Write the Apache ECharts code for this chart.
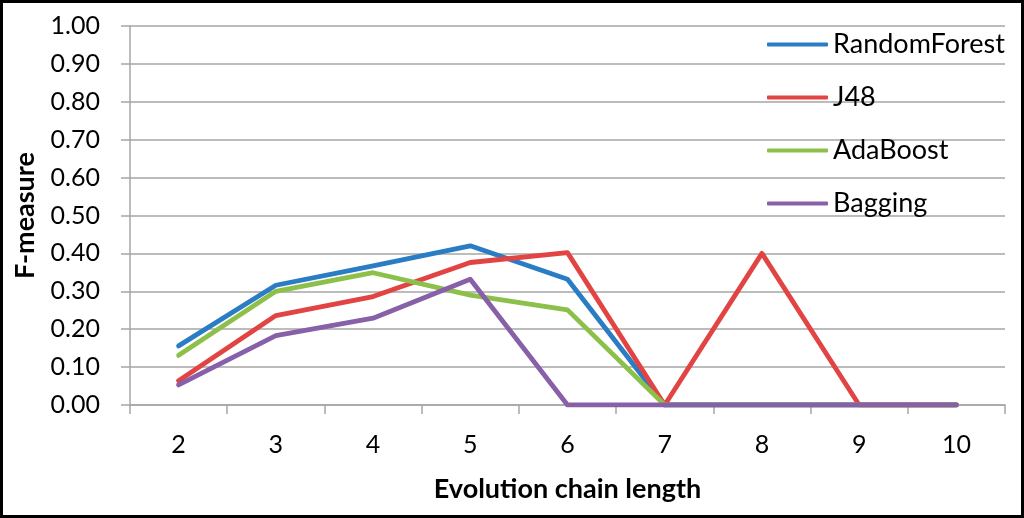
<!DOCTYPE html>
<html>
<head>
<meta charset="utf-8">
<script src="https://cdn.jsdelivr.net/npm/echarts@6/dist/echarts.min.js"></script>
<style>
html,body{margin:0;padding:0;background:#fff;}
#wrap{position:absolute;left:0;top:0;width:1024px;height:518px;}
#frame{position:absolute;left:0;top:0;width:1018px;height:512px;border:3px solid #000;pointer-events:none;}
#chart{position:absolute;left:0;top:0;width:1024px;height:518px;}
</style>
</head>
<body>
<div id="wrap"><div id="chart"></div><div id="frame"></div></div>
<script>
var categories = ['2','3','4','5','6','7','8','9','10'];
var randomForest = [0.156, 0.316, 0.367, 0.420, 0.332, 0, 0, 0, 0];
var j48 = [0.064, 0.236, 0.286, 0.376, 0.402, 0, 0.400, 0, 0];
var adaBoost = [0.131, 0.300, 0.349, 0.290, 0.251, 0, 0, 0, 0];
var bagging = [0.053, 0.183, 0.229, 0.332, 0, 0, 0, 0, 0];
var yTicks = ['0.00','0.10','0.20','0.30','0.40','0.50','0.60','0.70','0.80','0.90','1.00'];

var font = 'Lato';
var colors = ['#2a7cc4', '#e14442', '#8cc04b', '#8760a8'];
function mk(name, data, c) {
  return {name: name, type: 'line', data: data, symbol: 'none',
    lineStyle: {width: 4.8, color: c, cap: 'round', join: 'round'}, itemStyle: {color: c}};
}
var chart = echarts.init(document.getElementById('chart'), null, {renderer: 'canvas'});
chart.setOption({
  animation: false,
  grid: {left: 130, right: 19, top: 26, bottom: 113, containLabel: false},
  legend: {
    orient: 'vertical', left: 762, top: 26, itemWidth: 61, itemHeight: 4, itemGap: 26,
    icon: 'roundRect',
    textStyle: {fontFamily: font, fontSize: 27, color: '#000', lineHeight: 24},
    data: ['RandomForest', 'J48', 'AdaBoost', 'Bagging']
  },
  xAxis: {
    type: 'category', data: categories, boundaryGap: true,
    name: 'Evolution chain length', nameLocation: 'middle', nameGap: 71,
    nameTextStyle: {fontFamily: font, fontSize: 27, fontWeight: 'bold', color: '#000'},
    axisLine: {lineStyle: {color: '#a6a6a6', width: 1.5}},
    axisTick: {show: true, length: 9, alignWithLabel: false, lineStyle: {color: '#a6a6a6', width: 1.5}},
    axisLabel: {fontFamily: font, fontSize: 25, color: '#000', margin: 27}
  },
  yAxis: {
    type: 'value', min: 0, max: 1, interval: 0.1,
    name: 'F-measure', nameLocation: 'middle', nameGap: 91, nameRotate: 90,
    nameTextStyle: {fontFamily: font, fontSize: 27, fontWeight: 'bold', color: '#000'},
    axisLine: {show: true, lineStyle: {color: '#a6a6a6', width: 1.5}},
    axisTick: {show: true, inside: false, length: 9, lineStyle: {color: '#a6a6a6', width: 1.5}},
    splitLine: {show: true, lineStyle: {color: '#a6a6a6', width: 1.5}},
    axisLabel: {fontFamily: font, fontSize: 25, color: '#000', margin: 30,
      formatter: function (v) { return yTicks[Math.round(v * 10)]; }}
  },
  series: [
    mk('RandomForest', randomForest, colors[0]),
    mk('J48', j48, colors[1]),
    mk('AdaBoost', adaBoost, colors[2]),
    mk('Bagging', bagging, colors[3])
  ]
});
</script>
</body>
</html>
